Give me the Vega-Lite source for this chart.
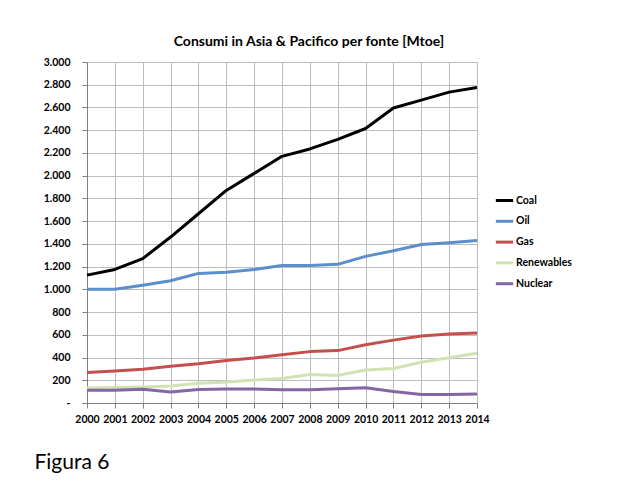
{
  "$schema": "https://vega.github.io/schema/vega-lite/v6.json",
  "autosize": "none",
  "width": 390,
  "height": 341,
  "padding": {"left": 87, "top": 62, "right": 143, "bottom": 93},
  "background": "white",
  "title": {
    "text": "Consumi in Asia & Pacifico per fonte [Mtoe]",
    "anchor": "middle",
    "frame": "group",
    "dx": 27,
    "offset": 8,
    "font": "Lato",
    "fontSize": 14,
    "fontWeight": "bold",
    "color": "#000000"
  },
  "data": {
    "values": [
      {"year": "2000", "fonte": "Coal", "mtoe": 1125},
      {"year": "2001", "fonte": "Coal", "mtoe": 1175},
      {"year": "2002", "fonte": "Coal", "mtoe": 1270},
      {"year": "2003", "fonte": "Coal", "mtoe": 1460},
      {"year": "2004", "fonte": "Coal", "mtoe": 1665},
      {"year": "2005", "fonte": "Coal", "mtoe": 1870},
      {"year": "2006", "fonte": "Coal", "mtoe": 2020},
      {"year": "2007", "fonte": "Coal", "mtoe": 2170},
      {"year": "2008", "fonte": "Coal", "mtoe": 2235},
      {"year": "2009", "fonte": "Coal", "mtoe": 2320},
      {"year": "2010", "fonte": "Coal", "mtoe": 2415},
      {"year": "2011", "fonte": "Coal", "mtoe": 2595},
      {"year": "2012", "fonte": "Coal", "mtoe": 2665},
      {"year": "2013", "fonte": "Coal", "mtoe": 2735},
      {"year": "2014", "fonte": "Coal", "mtoe": 2775},
      {"year": "2000", "fonte": "Oil", "mtoe": 1000},
      {"year": "2001", "fonte": "Oil", "mtoe": 1000},
      {"year": "2002", "fonte": "Oil", "mtoe": 1035},
      {"year": "2003", "fonte": "Oil", "mtoe": 1075},
      {"year": "2004", "fonte": "Oil", "mtoe": 1140},
      {"year": "2005", "fonte": "Oil", "mtoe": 1150},
      {"year": "2006", "fonte": "Oil", "mtoe": 1175},
      {"year": "2007", "fonte": "Oil", "mtoe": 1210},
      {"year": "2008", "fonte": "Oil", "mtoe": 1210},
      {"year": "2009", "fonte": "Oil", "mtoe": 1220},
      {"year": "2010", "fonte": "Oil", "mtoe": 1290},
      {"year": "2011", "fonte": "Oil", "mtoe": 1340},
      {"year": "2012", "fonte": "Oil", "mtoe": 1395},
      {"year": "2013", "fonte": "Oil", "mtoe": 1410},
      {"year": "2014", "fonte": "Oil", "mtoe": 1430},
      {"year": "2000", "fonte": "Gas", "mtoe": 268},
      {"year": "2001", "fonte": "Gas", "mtoe": 282},
      {"year": "2002", "fonte": "Gas", "mtoe": 297},
      {"year": "2003", "fonte": "Gas", "mtoe": 323},
      {"year": "2004", "fonte": "Gas", "mtoe": 345},
      {"year": "2005", "fonte": "Gas", "mtoe": 374},
      {"year": "2006", "fonte": "Gas", "mtoe": 396},
      {"year": "2007", "fonte": "Gas", "mtoe": 425},
      {"year": "2008", "fonte": "Gas", "mtoe": 452},
      {"year": "2009", "fonte": "Gas", "mtoe": 461},
      {"year": "2010", "fonte": "Gas", "mtoe": 512},
      {"year": "2011", "fonte": "Gas", "mtoe": 553},
      {"year": "2012", "fonte": "Gas", "mtoe": 590},
      {"year": "2013", "fonte": "Gas", "mtoe": 606},
      {"year": "2014", "fonte": "Gas", "mtoe": 615},
      {"year": "2000", "fonte": "Renewables", "mtoe": 132},
      {"year": "2001", "fonte": "Renewables", "mtoe": 136},
      {"year": "2002", "fonte": "Renewables", "mtoe": 141},
      {"year": "2003", "fonte": "Renewables", "mtoe": 150},
      {"year": "2004", "fonte": "Renewables", "mtoe": 173},
      {"year": "2005", "fonte": "Renewables", "mtoe": 184},
      {"year": "2006", "fonte": "Renewables", "mtoe": 203},
      {"year": "2007", "fonte": "Renewables", "mtoe": 215},
      {"year": "2008", "fonte": "Renewables", "mtoe": 250},
      {"year": "2009", "fonte": "Renewables", "mtoe": 243},
      {"year": "2010", "fonte": "Renewables", "mtoe": 290},
      {"year": "2011", "fonte": "Renewables", "mtoe": 303},
      {"year": "2012", "fonte": "Renewables", "mtoe": 358},
      {"year": "2013", "fonte": "Renewables", "mtoe": 398},
      {"year": "2014", "fonte": "Renewables", "mtoe": 438},
      {"year": "2000", "fonte": "Nuclear", "mtoe": 112},
      {"year": "2001", "fonte": "Nuclear", "mtoe": 112},
      {"year": "2002", "fonte": "Nuclear", "mtoe": 121},
      {"year": "2003", "fonte": "Nuclear", "mtoe": 97},
      {"year": "2004", "fonte": "Nuclear", "mtoe": 118},
      {"year": "2005", "fonte": "Nuclear", "mtoe": 124},
      {"year": "2006", "fonte": "Nuclear", "mtoe": 124},
      {"year": "2007", "fonte": "Nuclear", "mtoe": 117},
      {"year": "2008", "fonte": "Nuclear", "mtoe": 116},
      {"year": "2009", "fonte": "Nuclear", "mtoe": 125},
      {"year": "2010", "fonte": "Nuclear", "mtoe": 134},
      {"year": "2011", "fonte": "Nuclear", "mtoe": 101},
      {"year": "2012", "fonte": "Nuclear", "mtoe": 74},
      {"year": "2013", "fonte": "Nuclear", "mtoe": 74},
      {"year": "2014", "fonte": "Nuclear", "mtoe": 80}
    ]
  },
  "mark": {"type": "line", "strokeWidth": 3, "strokeJoin": "round"},
  "encoding": {
    "x": {
      "field": "year",
      "type": "ordinal",
      "scale": {"type": "point", "padding": 0},
      "axis": {
        "title": "Figura 6",
        "titleAnchor": "start",
        "titleAlign": "left",
        "titleBaseline": "alphabetic",
        "titleX": -53,
        "titleY": 65,
        "titleFont": "Lato",
        "titleFontSize": 21,
        "titleFontWeight": "normal",
        "titleColor": "#000000",
        "labelAngle": 0,
        "labelFont": "Lato",
        "labelFontSize": 10.5,
        "labelFontWeight": "bold",
        "labelColor": "#000000",
        "labelPadding": 6,
        "tickSize": 5,
        "tickColor": "#808080",
        "domainColor": "#808080",
        "grid": true,
        "gridColor": "#BDBDBD"
      }
    },
    "y": {
      "field": "mtoe",
      "type": "quantitative",
      "scale": {"domain": [0, 3000], "nice": false},
      "axis": {
        "title": null,
        "values": [0, 200, 400, 600, 800, 1000, 1200, 1400, 1600, 1800, 2000, 2200, 2400, 2600, 2800, 3000],
        "labelExpr": "datum.value == 0 ? '-' : replace(format(datum.value, ','), ',', '.')",
        "labelFont": "Lato",
        "labelFontSize": 10.5,
        "labelFontWeight": "bold",
        "labelColor": "#000000",
        "labelPadding": 12,
        "tickSize": 5,
        "tickColor": "#808080",
        "domainColor": "#808080",
        "grid": true,
        "gridColor": "#BDBDBD"
      }
    },
    "color": {
      "field": "fonte",
      "type": "nominal",
      "scale": {
        "domain": ["Coal", "Oil", "Gas", "Renewables", "Nuclear"],
        "range": ["#000000", "#5A8FCB", "#C4504D", "#D2E2B3", "#8466A6"]
      },
      "legend": {
        "title": null,
        "orient": "none",
        "legendX": 407,
        "legendY": 128,
        "symbolType": "stroke",
        "symbolSize": 300,
        "symbolStrokeWidth": 3,
        "labelOffset": 1,
        "labelFont": "Lato",
        "labelFontSize": 10.5,
        "labelFontWeight": "bold",
        "labelColor": "#000000",
        "rowPadding": 3.8
      }
    }
  },
  "config": {
    "view": {"stroke": "#808080", "strokeWidth": 1}
  }
}
